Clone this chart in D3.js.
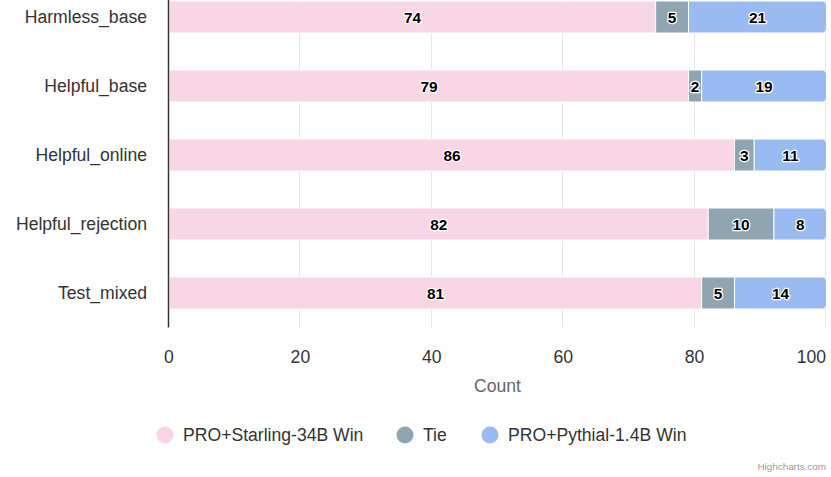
<!DOCTYPE html>
<html>
<head>
<meta charset="utf-8">
<script src="https://cdn.jsdelivr.net/npm/d3@7"></script>
<style>
  html, body { margin: 0; padding: 0; background: #fff; }
  svg { display: block; font-family: "Liberation Sans", Arial, Helvetica, sans-serif; }
</style>
</head>
<body>
<svg id="chart" width="831" height="477"></svg>
<script>
// datos
const categories = ["Harmless_base", "Helpful_base", "Helpful_online", "Helpful_rejection", "Test_mixed"];
const seriesNames = ["PRO+Starling-34B Win", "Tie", "PRO+Pythial-1.4B Win"];
const starlingWin = [74, 79, 86, 82, 81];
const tieCounts   = [5, 2, 3, 10, 5];
const pythiaWin   = [21, 19, 11, 8, 14];
const xTicks = [0, 20, 40, 60, 80, 100];
const colors = ["#f8d6e5", "#8fa5b2", "#99bbf2"];

const W = 831, H = 477;
const plot = { left: 169, right: 826, top: -17.5, bottom: 327.5 };

const svg = d3.select("#chart");

const x = d3.scaleLinear().domain([0, 100]).range([plot.left, plot.right]);
const y = d3.scaleBand().domain(categories).range([plot.top, plot.bottom]);
const barH = 32;

// grid
svg.append("g")
  .selectAll("line")
  .data(xTicks.slice(1))
  .enter().append("line")
  .attr("x1", d => Math.round(x(d)) - 0.5)
  .attr("x2", d => Math.round(x(d)) - 0.5)
  .attr("y1", 0)
  .attr("y2", plot.bottom)
  .attr("stroke", "#e6e6e6")
  .attr("stroke-width", 1);

// stack
const rows = categories.map((c, i) => ({ cat: c, vals: [starlingWin[i], tieCounts[i], pythiaWin[i]] }));
const segs = [];
rows.forEach(r => {
  let acc = 0;
  r.vals.forEach((v, k) => {
    segs.push({ cat: r.cat, k, v, x0: acc, x1: acc + v });
    acc += v;
  });
});

function roundRight(x0, y0, w, h, r){
  return `M${x0},${y0}H${x0 + w - r}Q${x0 + w},${y0} ${x0 + w},${y0 + r}` +
         `V${y0 + h - r}Q${x0 + w},${y0 + h} ${x0 + w - r},${y0 + h}H${x0}Z`;
}

const bars = svg.append("g");
bars.selectAll("path")
  .data(segs)
  .enter().append("path")
  .attr("d", d => {
    const x0 = x(d.x0) + 0.5, w = x(d.x1) - x(d.x0);
    const y0 = y(d.cat) + (y.bandwidth() - barH) / 2;
    return d.k === 2 ? roundRight(x0, y0, w, barH, 4) : `M${x0},${y0}h${w}v${barH}h${-w}Z`;
  })
  .attr("fill", d => colors[d.k])
  .attr("stroke", "#fff")
  .attr("stroke-width", 1);

// etiquetas
svg.append("g")
  .selectAll("text")
  .data(segs)
  .enter().append("text")
  .attr("x", d => (x(d.x0) + x(d.x1)) / 2 + 0.5)
  .attr("y", d => y(d.cat) + y.bandwidth() / 2)
  .attr("dy", "0.36em")
  .attr("text-anchor", "middle")
  .attr("fill", "#000")
  .attr("stroke", "#fff")
  .attr("stroke-width", 2.5)
  .attr("stroke-linejoin", "round")
  .attr("paint-order", "stroke")
  .style("font-size", "15.4px")
  .style("font-weight", "bold")
  .text(d => d.v);

// eje de categorias
svg.append("line")
  .attr("x1", plot.left - 0.5).attr("x2", plot.left - 0.5)
  .attr("y1", 0).attr("y2", plot.bottom)
  .attr("stroke", "#333").attr("stroke-width", 1.5);

svg.append("g")
  .selectAll("text")
  .data(categories)
  .enter().append("text")
  .attr("x", 147)
  .attr("y", d => y(d) + y.bandwidth() / 2)
  .attr("dy", "0.35em")
  .attr("text-anchor", "end")
  .attr("fill", "#333")
  .style("font-size", "17.6px")
  .text(d => d);

// eje x
svg.append("g")
  .selectAll("text")
  .data(xTicks)
  .enter().append("text")
  .attr("x", d => d === 100 ? x(d) : x(d))
  .attr("y", 363)
  .attr("text-anchor", d => d === 100 ? "end" : "middle")
  .attr("fill", "#333")
  .style("font-size", "17.6px")
  .text(d => d);

svg.append("text")
  .attr("x", (plot.left + plot.right) / 2)
  .attr("y", 392)
  .attr("text-anchor", "middle")
  .attr("fill", "#666")
  .style("font-size", "17.6px")
  .text("Count");

// leyenda
const legendX = [165, 405, 490];
const lg = svg.append("g")
  .selectAll("g")
  .data(seriesNames)
  .enter().append("g")
  .attr("transform", (d, i) => `translate(${legendX[i]},435)`);
lg.append("circle").attr("r", 8.5).attr("fill", (d, i) => colors[i]);
lg.append("text")
  .attr("x", 18)
  .attr("dy", "0.35em")
  .attr("fill", "#333")
  .style("font-size", "17.6px")
  .text(d => d);

// creditos
svg.append("text")
  .attr("x", 826)
  .attr("y", 470)
  .attr("text-anchor", "end")
  .attr("fill", "#999")
  .style("font-size", "9.9px")
  .text("Highcharts.com");
</script>
</body>
</html>
